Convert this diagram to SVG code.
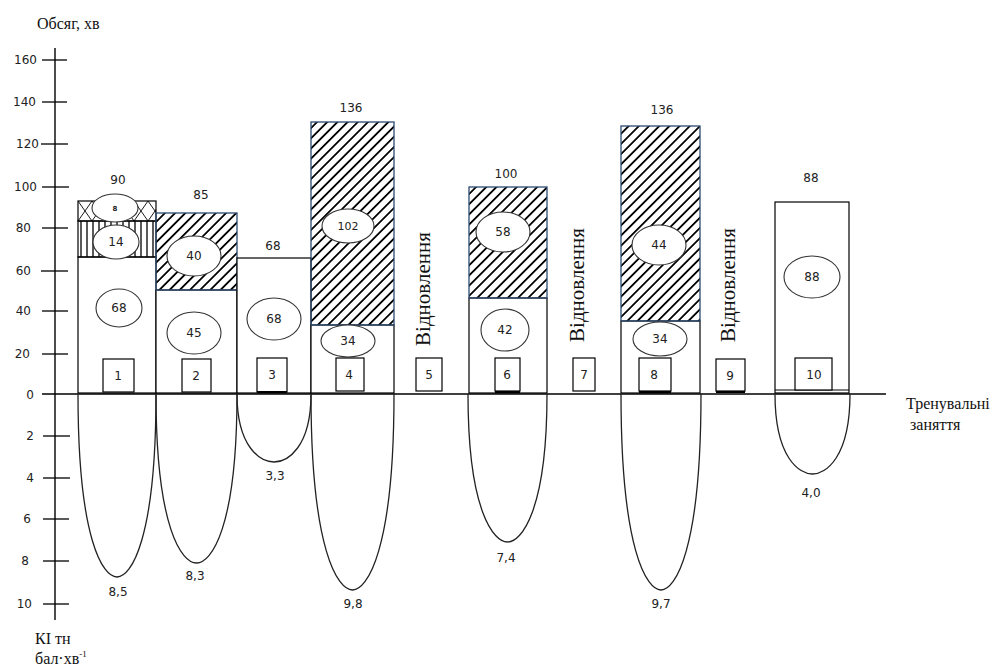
<svg xmlns="http://www.w3.org/2000/svg" width="992" height="666" viewBox="0 0 992 666">
<style>
.ax{stroke:#000;stroke-width:1.4;fill:none}
.tk{stroke:#000;stroke-width:1.3}
.bar{fill:#fff;stroke:#000;stroke-width:1.2}
.hb{fill:url(#hatch);stroke:#2b4a70;stroke-width:1.3}
.el{fill:#fff;stroke:#333;stroke-width:1.1}
.bx{fill:#fff;stroke:#000;stroke-width:1.2}
.u{fill:none;stroke:#222;stroke-width:1.3}
.n{font-family:"DejaVu Sans",Verdana,sans-serif;font-size:12px;fill:#222;text-anchor:middle}
.yl{font-family:"DejaVu Sans",Verdana,sans-serif;font-size:12px;fill:#222;text-anchor:end}
.s{font-family:"Liberation Serif","Times New Roman",serif;font-size:16px;fill:#111}
.v{font-family:"Liberation Serif","Times New Roman",serif;font-size:21px;fill:#111;text-anchor:middle}
</style>
<defs>
<pattern id="hatch" patternUnits="userSpaceOnUse" width="7.2" height="7.2" patternTransform="rotate(45)">
<line x1="0" y1="-1" x2="0" y2="8.2" stroke="#000" stroke-width="3.6"/>
</pattern>
<pattern id="cross" patternUnits="userSpaceOnUse" x="78" y="201" width="14" height="20">
<path d="M0 0L14 20M14 0L0 20" stroke="#000" stroke-width="0.9" fill="none"/>
</pattern>
<pattern id="vert" patternUnits="userSpaceOnUse" x="78" y="0" width="6" height="10">
<line x1="3" y1="0" x2="3" y2="10" stroke="#000" stroke-width="1.3"/>
</pattern>
</defs>
<rect width="992" height="666" fill="#fff"/>

<g id="axes">
<line class="ax" x1="55" y1="48" x2="55" y2="620"/>
<line class="ax" x1="42" y1="394" x2="886" y2="394"/>
<g class="tk">
<line x1="42" y1="60" x2="67" y2="60"/>
<line x1="42" y1="102" x2="67" y2="102"/>
<line x1="41" y1="144" x2="68" y2="144"/>
<line x1="42" y1="187" x2="69" y2="187"/>
<line x1="42" y1="228" x2="68" y2="228"/>
<line x1="41" y1="271" x2="68" y2="271"/>
<line x1="42" y1="311" x2="68" y2="311"/>
<line x1="42" y1="354" x2="68" y2="354"/>
<line x1="43" y1="436" x2="70" y2="436"/>
<line x1="43" y1="478" x2="70" y2="478"/>
<line x1="43" y1="519" x2="69" y2="519"/>
<line x1="43" y1="561" x2="69" y2="561"/>
<line x1="43" y1="604" x2="69" y2="604"/>
</g>
<text class="yl" x="37" y="64">160</text>
<text class="yl" x="36" y="106">140</text>
<text class="yl" x="39" y="148">120</text>
<text class="yl" x="37" y="191">100</text>
<text class="yl" x="31" y="232">80</text>
<text class="yl" x="31" y="275">60</text>
<text class="yl" x="31" y="315">40</text>
<text class="yl" x="30" y="358">20</text>
<text class="yl" x="34" y="399">0</text>
<text class="yl" x="34" y="440">2</text>
<text class="yl" x="34" y="482">4</text>
<text class="yl" x="31" y="523">6</text>
<text class="yl" x="29" y="565">8</text>
<text class="yl" x="32" y="608">10</text>
<text class="s" x="37" y="29">Обсяг, хв</text>
<text class="s" x="35" y="644">КІ тн</text>
<text class="s" x="35" y="664">бал·хв<tspan style="font-size:9px" dy="-7">-1</tspan></text>
<text class="s" x="906" y="409">Тренувальні</text>
<text class="s" x="910" y="430">заняття</text>
</g>

<g id="bar1">
<rect class="bar" x="78" y="257" width="78" height="136"/>
<rect x="78" y="221" width="78" height="36" fill="url(#vert)" stroke="#000" stroke-width="1.2"/>
<rect x="78" y="201" width="78" height="20" fill="url(#cross)" stroke="#000" stroke-width="1.2"/>
<ellipse class="el" cx="115" cy="208" rx="23" ry="14"/>
<text class="n" x="115" y="211" style="font-size:7px;font-weight:bold">8</text>
<ellipse class="el" cx="116" cy="242" rx="23" ry="17"/>
<text class="n" x="116" y="246">14</text>
<ellipse class="el" cx="119" cy="308" rx="23" ry="19"/>
<text class="n" x="119" y="312">68</text>
<rect class="bx" x="103" y="359" width="31" height="33"/>
<text class="n" x="118" y="380">1</text>
<text class="n" x="118" y="184">90</text>
</g>

<g id="bar2">
<rect class="bar" x="156" y="290" width="81" height="103"/>
<rect class="hb" x="156" y="213" width="81" height="77"/>
<ellipse class="el" cx="194" cy="256" rx="27" ry="20"/>
<text class="n" x="194" y="260">40</text>
<ellipse class="el" cx="194" cy="333" rx="27" ry="21"/>
<text class="n" x="194" y="337">45</text>
<rect class="bx" x="182" y="359" width="29" height="33"/>
<text class="n" x="196" y="380">2</text>
<text class="n" x="201" y="199">85</text>
</g>

<g id="bar3">
<rect class="bar" x="237" y="258" width="74" height="135"/>
<ellipse class="el" cx="274" cy="319" rx="27" ry="21"/>
<text class="n" x="274" y="323">68</text>
<rect class="bx" x="257" y="358" width="30" height="34"/>
<line x1="257" y1="392" x2="287" y2="392" stroke="#000" stroke-width="2"/>
<text class="n" x="272" y="379">3</text>
<text class="n" x="273" y="250">68</text>
</g>

<g id="bar4">
<rect class="bar" x="311" y="325" width="83" height="68"/>
<rect class="hb" x="311" y="122" width="83" height="203"/>
<ellipse class="el" cx="348" cy="226" rx="26" ry="17"/>
<text class="n" x="348" y="230" style="font-size:11px">102</text>
<ellipse class="el" cx="348" cy="341" rx="27" ry="16"/>
<text class="n" x="348" y="345">34</text>
<rect class="bx" x="336" y="358" width="28" height="33"/>
<text class="n" x="349" y="379">4</text>
<text class="n" x="351" y="112">136</text>
</g>

<g id="rest5">
<text class="v" transform="translate(430,289) rotate(-90)">Відновлення</text>
<rect class="bx" x="416" y="358" width="26" height="33"/>
<text class="n" x="429" y="379">5</text>
</g>

<g id="bar6">
<rect class="bar" x="469" y="298" width="78" height="95"/>
<rect class="hb" x="469" y="187" width="78" height="111"/>
<ellipse class="el" cx="503" cy="232" rx="27" ry="20"/>
<text class="n" x="503" y="236">58</text>
<ellipse class="el" cx="505" cy="330" rx="24" ry="21"/>
<text class="n" x="505" y="334">42</text>
<rect class="bx" x="495" y="358" width="25" height="33"/>
<line x1="495" y1="392" x2="520" y2="392" stroke="#000" stroke-width="2"/>
<text class="n" x="507" y="379">6</text>
<text class="n" x="506" y="178">100</text>
</g>

<g id="rest7">
<text class="v" transform="translate(584,285) rotate(-90)">Відновлення</text>
<rect class="bx" x="573" y="358" width="22" height="33"/>
<text class="n" x="584" y="379">7</text>
</g>

<g id="bar8">
<rect class="bar" x="621" y="321" width="79" height="72"/>
<rect class="hb" x="621" y="126" width="79" height="195"/>
<ellipse class="el" cx="659" cy="245" rx="27" ry="20"/>
<text class="n" x="659" y="249">44</text>
<ellipse class="el" cx="660" cy="339" rx="27" ry="17"/>
<text class="n" x="660" y="343">34</text>
<rect class="bx" x="639" y="358" width="32" height="33"/>
<line x1="639" y1="392" x2="671" y2="392" stroke="#000" stroke-width="2"/>
<text class="n" x="654" y="379">8</text>
<text class="n" x="662" y="114">136</text>
</g>

<g id="rest9">
<text class="v" transform="translate(735,285) rotate(-90)">Відновлення</text>
<rect class="bx" x="716" y="359" width="29" height="32"/>
<line x1="716" y1="392" x2="745" y2="392" stroke="#000" stroke-width="2"/>
<text class="n" x="730" y="380">9</text>
</g>

<g id="bar10">
<rect class="bar" x="775" y="202" width="74" height="191"/>
<line x1="775" y1="390" x2="849" y2="390" stroke="#000" stroke-width="1.1"/>
<ellipse class="el" cx="812" cy="277" rx="28" ry="21"/>
<text class="n" x="812" y="281">88</text>
<rect class="bx" x="795" y="358" width="37" height="32"/>
<text class="n" x="814" y="379">10</text>
<text class="n" x="811" y="182">88</text>
</g>

<g id="ki-curves">
<path class="u" d="M78 394C78 540 103 577 117 577C131 577 156 540 156 394"/>
<path class="u" d="M156 394C156 529 182 563 196.5 563C211 563 237 529 237 394"/>
<path class="u" d="M237 394C237 448 261 462 274 462C287 462 311 448 311 394"/>
<path class="u" d="M311 394C311 551 338 590 352.5 590C367 590 394 551 394 394"/>
<path class="u" d="M468 394C468 512 494 542 507.5 542C521 542 547 512 547 394"/>
<path class="u" d="M621 394C621 551 647 590 661 590C675 590 701 551 701 394"/>
<path class="u" d="M775 394C775 458 799.5 474 812.5 474C825.5 474 850 458 850 394"/>
<text class="n" x="118" y="596">8,5</text>
<text class="n" x="195" y="580">8,3</text>
<text class="n" x="275" y="480">3,3</text>
<text class="n" x="353" y="608">9,8</text>
<text class="n" x="506" y="562">7,4</text>
<text class="n" x="661" y="608">9,7</text>
<text class="n" x="811" y="497">4,0</text>
</g>
</svg>
